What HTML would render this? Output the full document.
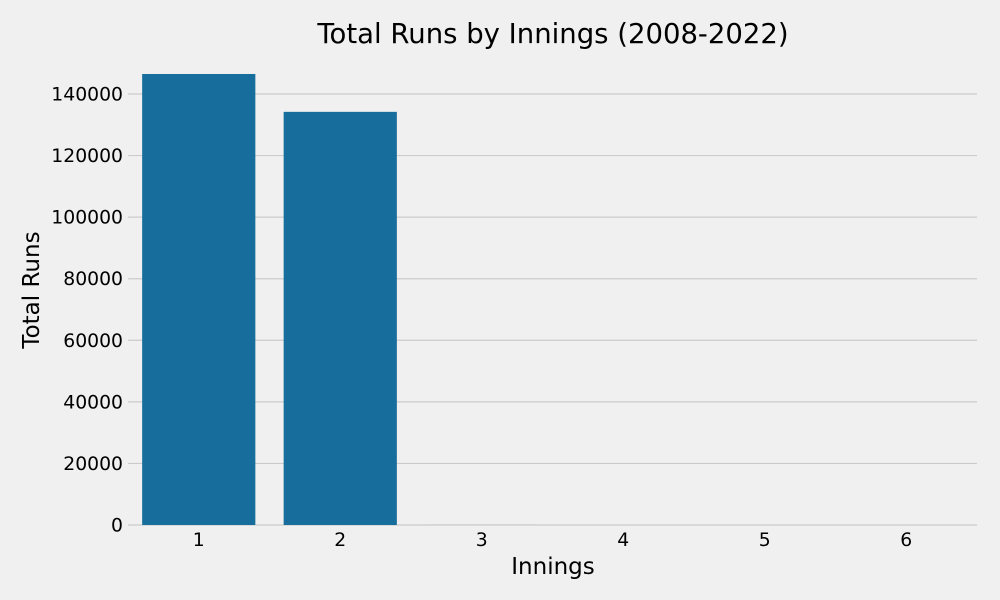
<!DOCTYPE html>
<html><head><meta charset="utf-8"><style>html,body{margin:0;padding:0;background:#f0f0f0;overflow:hidden}svg{display:block;font-family:"DejaVu Sans","Liberation Sans",sans-serif}</style></head>
<body>
<svg id="c" width="1000" height="600"></svg>
<script>
const categories=["1","2","3","4","5","6"];
const totalRuns=[146500,134200,8,5,2,1];
const yTicks=[0,20000,40000,60000,80000,100000,120000,140000];
const svg=document.getElementById('c');const NS='http://www.w3.org/2000/svg';
const L=128,R=977,Y0=525,Y140=94;
const step=(R-L)/categories.length;
const x=i=>L+step*(i+0.5);
const y=v=>Y0-(v/140000)*(Y0-Y140);
function mk(t,a,txt){const e=document.createElementNS(NS,t);for(const k in a)e.setAttribute(k,a[k]);if(txt!==undefined)e.textContent=txt;svg.appendChild(e);return e;}
let bg=mk('rect',{x:0,y:0,width:1000,height:600,fill:'#f0f0f0'});


yTicks.forEach(v=>{
 let g=mk('line',{x1:L,x2:R,y1:y(v),y2:y(v),stroke:'#cbcbcb','stroke-width':1.2});
 
 
 let t=mk('text',{x:123,y:y(v)+6.5,'text-anchor':'end','font-size':18.8,fill:'#000'},String(v));
 
 
});
categories.forEach((c,i)=>{
 const bw=step*0.8;
 let b=mk('rect',{x:x(i)-bw/2,y:y(totalRuns[i]),width:bw,height:Y0-y(totalRuns[i]),fill:'#176d9c'});
 
 
 let t=mk('text',{x:x(i),y:546,'text-anchor':'middle','font-size':18.8,fill:'#000'},c);
 
 
});
let ti=mk('text',{x:553,y:43,'text-anchor':'middle','font-size':27.5,fill:'#000'},'Total Runs by Innings (2008-2022)');


let xl=mk('text',{x:553,y:574,'text-anchor':'middle','font-size':23,fill:'#000'},'Innings');


let yl=mk('text',{x:0,y:0,'text-anchor':'middle','font-size':23,fill:'#000',transform:'translate(39,290) rotate(-90)'},'Total Runs');


</script>
</body></html>
